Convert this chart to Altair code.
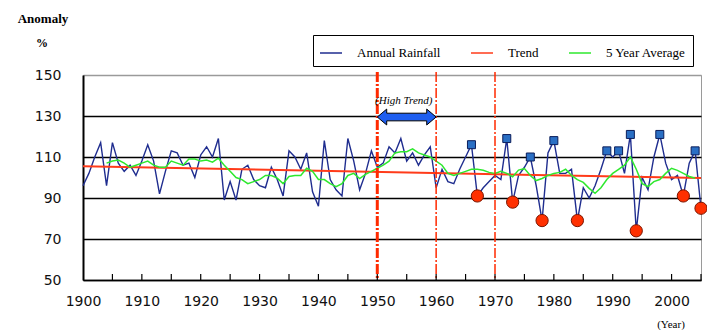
import altair as alt
import pandas as pd

# ---------------- data ----------------
years = list(range(1900, 2006))
rainfall = [
    96, 102, 110, 117, 96, 117, 107, 103, 106, 101,      # 1900-1909
    108, 116, 108, 92, 103, 113, 112, 106, 107, 100,     # 1910-1919
    111, 115, 110, 119, 89, 98, 89, 104, 106, 99,        # 1920-1929
    96, 95, 105, 99, 91, 113, 110, 104, 112, 93,         # 1930-1939
    86, 118, 99, 94, 91, 119, 108, 94, 102, 113,         # 1940-1949
    105, 107, 115, 112, 119, 108, 112, 106, 111, 115,    # 1950-1959
    95, 104, 98, 97, 104, 110, 116, 91, 95, 98,          # 1960-1969
    101, 99, 119, 88, 101, 105, 110, 96, 79, 112,        # 1970-1979
    118, 102, 102, 104, 79, 95, 90, 96, 104, 113,        # 1980-1989
    110, 113, 102, 121, 74, 100, 94, 110, 121, 107,      # 1990-1999
    99, 101, 91, 107, 113, 85,                           # 2000-2005
]

avg_years = list(range(1904, 2005))
avg_values = [
    107, 108, 108.5, 107, 105, 106,                                  # 1904-1909
    107, 108, 106, 105, 105, 108, 107, 106, 109, 109,                # 1910-1919
    108, 108.5, 107.5, 109.4, 106, 103, 100, 99, 97, 98,             # 1920-1929
    99, 101, 101, 99.7, 97, 100.5, 101, 101, 104.5, 103,             # 1930-1939
    99, 99, 97, 95.5, 97, 101, 102, 99.5, 101.5, 103,                # 1940-1949
    104.5, 106, 108, 112, 112.6, 112.6, 114, 112, 111, 110,          # 1950-1959
    108, 106, 102, 101, 102, 103, 104, 104, 103.5, 102.5,            # 1960-1969
    102, 103, 102, 100.4, 103.6, 104.4, 101, 98.5, 99.5, 101,        # 1970-1979
    102, 102.5, 104, 101, 99, 97.6, 94.7, 92.3, 95, 99,              # 1980-1989
    102, 104, 106, 110, 104, 97, 95.6, 98, 99, 102,                  # 1990-1999
    104.5, 103.5, 102, 100.5, 99.6,                                  # 2000-2004
]

trend_years = [1900, 2005]
trend_values = [105.5, 99.7]

high_years = [1966, 1972, 1976, 1980, 1989, 1991, 1993, 1998, 2004]
high_values = [116, 119, 110, 118, 113, 113, 121, 121, 113]
low_years = [1967, 1973, 1978, 1984, 1994, 2002, 2005]
low_values = [91, 88, 79, 79, 74, 91, 85]

marker_years = [1950, 1960, 1970]
marker_widths = [3, 1.5, 1.5]

label_years = [1900, 1910, 1920, 1930, 1940, 1950, 1960, 1970, 1980, 1990, 2000]
tick_years = [1905, 1910, 1915, 1920, 1925, 1930, 1935, 1940, 1945, 1950, 1955,
              1960, 1965, 1970, 1975, 1980, 1985, 1990, 1995, 2000, 2005]
y_values = [50, 70, 90, 110, 130, 150]

series_names = ["Annual Rainfall", "Trend", "5 Year Average"]
series_colors = ["#1f2d8f", "#ff3b1a", "#2ee82e"]

arrow_start, arrow_end, arrow_level = 1950, 1960, 129.5
note_year, note_value, note_text = 1954.5, 137.3, "(High Trend)"

# ---------------- layout ----------------
W, H = 618, 205
X0, X1 = 1900, 2005

df_rain = pd.DataFrame({"year": years, "value": rainfall, "series": series_names[0]})
df_trend = pd.DataFrame({"year": trend_years, "value": trend_values, "series": series_names[1]})
df_avg = pd.DataFrame({"year": avg_years, "value": avg_values, "series": series_names[2]})
df_high = pd.DataFrame({"year": high_years, "value": high_values})
df_low = pd.DataFrame({"year": low_years, "value": low_values})
df_mark = pd.DataFrame({"year": marker_years, "w": marker_widths})
df_ticks = pd.DataFrame({"tyear": tick_years, "kind": "tick"})
df_arrow = pd.DataFrame({"year": [(arrow_start + arrow_end) / 2], "value": [arrow_level]})
df_note = pd.DataFrame({"year": [note_year], "value": [note_value], "t": [note_text]})

x_axis = alt.Axis(
    values=label_years, format="d", labelFont="DejaVu Sans", labelFontSize=14,
    labelColor="#111111", labelPadding=14, labelFlush=False, ticks=False,
    domainColor="black", domainWidth=1.5, grid=False, title=None,
)
y_axis = alt.Axis(
    values=y_values, labelFont="DejaVu Sans", labelFontSize=14, labelColor="#111111",
    labelPadding=22, ticks=False, domainColor="black", domainWidth=2,
    grid=True, gridWidth=1.3,
    gridColor=alt.condition("datum.value == 150", alt.value("#9a9a9a"), alt.value("#000000")),
    title=None,
)
x_scale = alt.Scale(domain=[X0, X1], nice=False, zero=False)
x_enc = alt.X("year:Q", scale=x_scale, axis=x_axis)
y_enc = alt.Y("value:Q", scale=alt.Scale(domain=[50, 150], nice=False, zero=False), axis=y_axis)

legend = alt.Legend(
    title=None, orient="none", legendX=230, legendY=-40, direction="horizontal",
    symbolType="stroke", symbolSize=484, symbolStrokeWidth=1.5,
    labelFont="Liberation Serif", labelFontSize=13, labelColor="black",
    labelOffset=14, columnPadding=27, padding=6, strokeColor="black", labelLimit=300,
)
color_enc = alt.Color("series:N", scale=alt.Scale(domain=series_names, range=series_colors), legend=legend)

rain = alt.Chart(df_rain).mark_line(strokeWidth=1.4).encode(x=x_enc, y=y_enc, color=color_enc)
trend = alt.Chart(df_trend).mark_line(strokeWidth=2).encode(x=x_enc, y=y_enc, color=color_enc)
avg = alt.Chart(df_avg).mark_line(strokeWidth=1.5).encode(x=x_enc, y=y_enc, color=color_enc)

# small upward tick marks standing on the year axis
ticks = alt.Chart(df_ticks).mark_rule(strokeWidth=1.2).encode(
    x=alt.X("tyear:Q", scale=x_scale, axis=x_axis),
    y=alt.value(H), y2=alt.value(H - 6),
    stroke=alt.value("#000000"),
)

vlines = alt.Chart(df_mark).mark_rule(color="#ff2a00", strokeDash=[10, 2, 2, 2]).encode(
    x=x_enc, y=alt.value(-3), y2=alt.value(H),
    strokeWidth=alt.StrokeWidth("w:Q", scale=None, legend=None))

highs = alt.Chart(df_high).mark_point(
    shape="square", filled=True, size=64, fill="#2a6fc4", stroke="#0b1d5a",
    strokeWidth=1, opacity=1).encode(x=x_enc, y=y_enc)
lows = alt.Chart(df_low).mark_point(
    shape="circle", filled=True, size=150, fill="#ff3000", stroke="#7a1500",
    strokeWidth=1, opacity=1).encode(x=x_enc, y=y_enc)

arrow_px = W / (X1 - X0) * (arrow_end - arrow_start)
arrow_path = ("M-1,0L-0.68,-0.27L-0.68,-0.13L0.68,-0.13L0.68,-0.27L1,0"
              "L0.68,0.27L0.68,0.13L-0.68,0.13L-0.68,0.27Z")
arrow = alt.Chart(df_arrow).mark_point(
    shape=arrow_path, filled=True, size=arrow_px ** 2, fill="#1e5ef0", stroke="black",
    strokeWidth=1, opacity=1).encode(x=x_enc, y=y_enc)

note = alt.Chart(df_note).mark_text(
    font="Liberation Serif", fontSize=11, fontStyle="italic", color="black").encode(
    x=x_enc, y=y_enc, text="t:N")

title1 = alt.Chart(pd.DataFrame({"t": ["Anomaly"]})).mark_text(
    font="Liberation Serif", fontSize=13, fontWeight="bold", color="black").encode(
    x=alt.value(-40), y=alt.value(-56), text="t:N")
title2 = alt.Chart(pd.DataFrame({"t": ["%"]})).mark_text(
    font="Liberation Serif", fontSize=12, fontWeight="bold", color="black").encode(
    x=alt.value(-41), y=alt.value(-32), text="t:N")
xtitle = alt.Chart(pd.DataFrame({"t": ["(Year)"]})).mark_text(
    font="Liberation Serif", fontSize=11, color="black").encode(
    x=alt.value(588), y=alt.value(H + 45), text="t:N")

chart = alt.layer(
    rain, trend, avg, highs, lows, vlines, arrow, note, title1, title2, xtitle, ticks
).properties(
    width=W, height=H,
    padding={"left": 83, "top": 75, "right": 6, "bottom": 50},
    autosize=alt.AutoSizeParams(type="none"),
    background="white",
).configure_view(stroke="#9a9a9a", strokeWidth=1)

chart.save("out.html", embed_options={"renderer": "svg", "actions": False})
